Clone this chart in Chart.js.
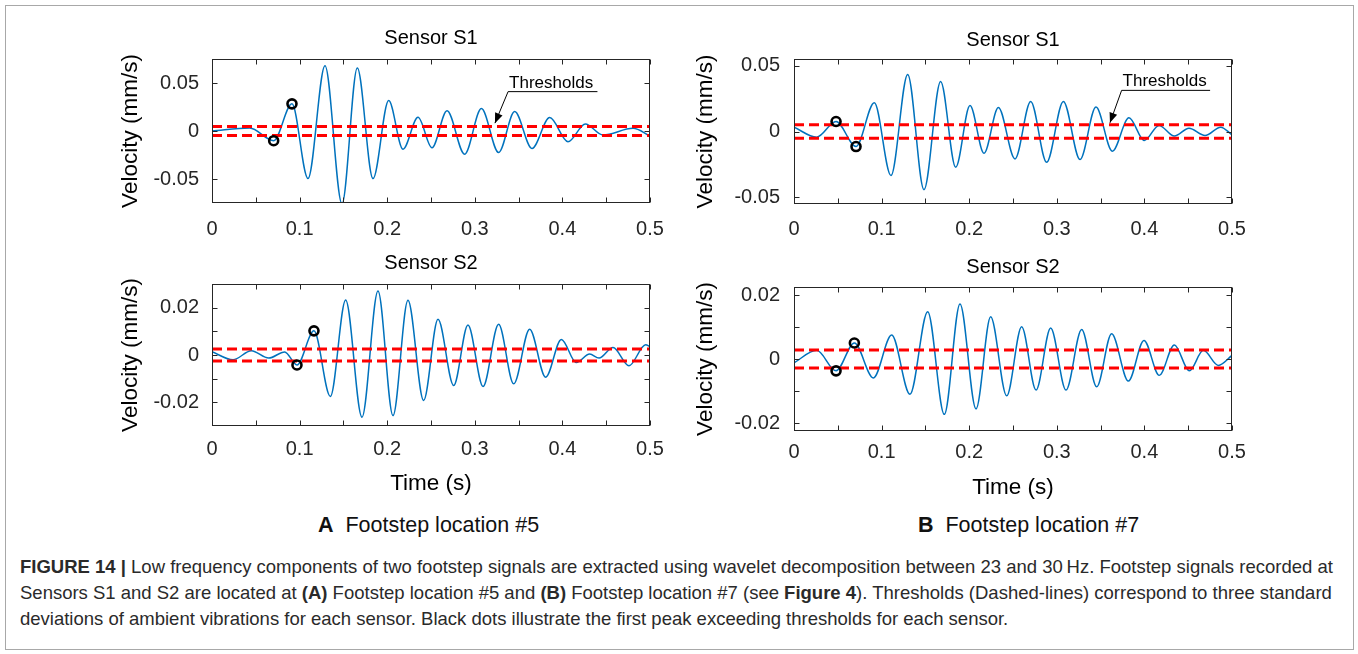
<!DOCTYPE html>
<html>
<head>
<meta charset="utf-8">
<script src="https://cdn.jsdelivr.net/npm/chart.js@4.4.1/dist/chart.umd.min.js"></script>
<style>
  body { margin: 0; background: #fff; width: 1358px; height: 654px; position: relative; overflow: hidden;
         font-family: "Liberation Sans", Arial, sans-serif; }
  .frame { position: absolute; left: 5px; top: 5px; width: 1347px; height: 643px; border: 1px solid #a8a8a8; }
  canvas { position: absolute; }
  .sub { position: absolute; top: 512px; font-size: 21.5px; line-height: 26px; color: #111; white-space: nowrap; }
  .cap { position: absolute; left: 20px; top: 554px; font-size: 18.5px; line-height: 26px; color: #2a2a2a; white-space: nowrap; }
</style>
</head>
<body>
<div class="frame"></div>
<div class="sub" style="left:318px"><b>A</b>&nbsp; Footstep location #5</div>
<div class="sub" style="left:918px"><b>B</b>&nbsp; Footstep location #7</div>
<div class="cap">
<b>FIGURE 14 |</b> Low frequency components of two footstep signals are extracted using wavelet decomposition between 23 and 30&#8201;Hz. Footstep signals recorded at<br>
Sensors S1 and S2 are located at <b>(A)</b> Footstep location #5 and <b>(B)</b> Footstep location #7 (see <b>Figure 4</b>). Thresholds (Dashed-lines) correspond to three standard<br>
deviations of ambient vibrations for each sensor. Black dots illustrate the first peak exceeding thresholds for each sensor.
</div>

<script>
// time axis, shared by every panel
const xTickMarks = [0, 0.05, 0.1, 0.15, 0.2, 0.25, 0.3, 0.35, 0.4, 0.45, 0.5];
const xTickLabels = [0, 0.1, 0.2, 0.3, 0.4, 0.5];

// peaks / troughs of the 23-30 Hz component
// A - footstep location #5, sensor S1
const a1Time = [0, 0.043, 0.0704, 0.0913, 0.1096, 0.129, 0.1484, 0.1659, 0.1838, 0.2017, 0.218, 0.2352, 0.2511,
  0.2683, 0.2884, 0.3075, 0.3272, 0.3455, 0.3653, 0.3855, 0.4064, 0.4262, 0.4463, 0.4806, 0.5];
const a1Vel = [0, 0.003, -0.0101, 0.0283, -0.0496, 0.068, -0.076, 0.0657, -0.0496, 0.0318, -0.0189, 0.0143, -0.0175,
  0.021, -0.0241, 0.0234, -0.0224, 0.0203, -0.0182, 0.014, -0.0112, 0.0073, -0.0042, 0.0028, -0.0052];
const a1DotTime = [0.0704, 0.0913];
const a1DotVel = [-0.0101, 0.0283];
const a1Threshold = 0.0047;
const a1YTicks = [-0.05, 0, 0.05];
const a1YLabels = [-0.05, 0, 0.05];

// A - sensor S2
const a2Time = [0, 0.024, 0.0449, 0.0647, 0.083, 0.097, 0.1164, 0.1351, 0.1526, 0.1712, 0.1895, 0.2066, 0.2237,
  0.2416, 0.258, 0.2759, 0.2922, 0.3094, 0.3272, 0.3444, 0.3626, 0.3809, 0.3988, 0.4159, 0.4311, 0.4418, 0.4578,
  0.476, 0.495, 0.5];
const a2Vel = [0.0014, -0.002, 0.0018, -0.0013, 0.0013, -0.0042, 0.0102, -0.0175, 0.0232, -0.0263, 0.027, -0.0256,
  0.0231, -0.0192, 0.0151, -0.0129, 0.0127, -0.0133, 0.013, -0.0122, 0.0109, -0.0094, 0.0066, -0.0032, 0.0004,
  -0.0013, 0.0032, -0.0045, 0.0043, 0.0035];
const a2DotTime = [0.097, 0.1164];
const a2DotVel = [-0.0042, 0.0102];
const a2Threshold = 0.0025;
const a2YTicks = [-0.02, -0.01, 0, 0.01, 0.02];
const a2YLabels = [-0.02, 0, 0.02];

// B - footstep location #7, sensor S1
const b1Time = [0, 0.0259, 0.048, 0.0708, 0.0917, 0.1107, 0.1298, 0.1484, 0.1674, 0.1846, 0.2009, 0.2169, 0.2333,
  0.2523, 0.2702, 0.2884, 0.3075, 0.3265, 0.3447, 0.3634, 0.3824, 0.3999, 0.4167, 0.4342, 0.4509, 0.4692, 0.4871, 0.5];
const b1Vel = [0.0033, -0.0043, 0.0076, -0.0114, 0.0218, -0.0334, 0.0433, -0.0441, 0.038, -0.0271, 0.0198, -0.0165,
  0.0182, -0.0208, 0.0228, -0.0233, 0.0228, -0.0213, 0.0185, -0.0149, 0.0104, -0.0068, 0.0046, -0.0035, 0.0025,
  -0.003, 0.0033, -0.0025];
const b1DotTime = [0.048, 0.0708];
const b1DotVel = [0.0076, -0.0114];
const b1Threshold = 0.0051;
const b1YTicks = [-0.05, 0, 0.05];
const b1YLabels = [-0.05, 0, 0.05];

// B - sensor S2
const b2Time = [0, 0.0259, 0.048, 0.0689, 0.0906, 0.1115, 0.1324, 0.1526, 0.1716, 0.1895, 0.2078, 0.2245, 0.2428,
  0.2599, 0.2763, 0.293, 0.3105, 0.3284, 0.3455, 0.3626, 0.3817, 0.3995, 0.417, 0.4342, 0.4513, 0.4673, 0.4844, 0.5];
const b2Vel = [-0.0012, 0.0027, -0.0037, 0.005, -0.0059, 0.0075, -0.011, 0.0148, -0.0173, 0.0172, -0.0156, 0.0132,
  -0.0115, 0.0101, -0.0097, 0.0097, -0.0097, 0.0092, -0.0087, 0.0079, -0.0069, 0.0058, -0.0051, 0.0044, -0.0037,
  0.0027, -0.002, 0.0011];
const b2DotTime = [0.048, 0.0689];
const b2DotVel = [-0.0037, 0.005];
const b2Threshold = 0.0028;
const b2YTicks = [-0.02, -0.01, 0, 0.01, 0.02];
const b2YLabels = [-0.02, 0, 0.02];

// "Thresholds" call-outs (data units)
const a1Note = { text: 'Thresholds', x0: 0.338, x1: 0.44, y: 0.041, tipX: 0.323, tipY: 0.0082 };
const b1Note = { text: 'Thresholds', x0: 0.374, x1: 0.475, y: 0.0312, tipX: 0.3607, tipY: 0.0066 };

const FONT = '"Liberation Sans", Arial, Helvetica, sans-serif';
const AXIS = '#262626';
const TITLE_SIZE = 20;   // "Sensor S1"
const LABEL_SIZE = 22.5; // axis titles
const TICK_SIZE = 20;

const toPoints = (xs, ys) => xs.map((x, i) => ({ x: x, y: ys[i] }));
const fmt = v => String(v);

// inward tick marks on all four sides, the axes box and the call-out arrow
const framePlugin = {
  id: 'frame',
  afterDatasetsDraw(chart, args, opts) {
    const { ctx, chartArea: a, scales: { x, y } } = chart;
    const L = Math.round(a.left) + 0.5, R = Math.round(a.right) - 0.5;
    const T = Math.round(a.top) + 0.5, B = Math.round(a.bottom) - 0.5;
    ctx.save();
    ctx.strokeStyle = AXIS;
    ctx.lineWidth = 1;
    ctx.beginPath();
    x.ticks.forEach(t => {
      const px = Math.round(x.getPixelForValue(t.value)) + 0.5;
      ctx.moveTo(px, B); ctx.lineTo(px, B - 5);
      ctx.moveTo(px, T); ctx.lineTo(px, T + 5);
    });
    y.ticks.forEach(t => {
      const py = Math.round(y.getPixelForValue(t.value)) + 0.5;
      ctx.moveTo(L, py); ctx.lineTo(L + 5, py);
      ctx.moveTo(R, py); ctx.lineTo(R - 5, py);
    });
    ctx.stroke();
    ctx.strokeRect(L, T, R - L, B - T);

    const n = opts.note;
    if (n) {
      const x0 = x.getPixelForValue(n.x0), x1 = x.getPixelForValue(n.x1);
      const yl = y.getPixelForValue(n.y);
      const tx = x.getPixelForValue(n.tipX), ty = y.getPixelForValue(n.tipY);
      ctx.strokeStyle = '#000';
      ctx.fillStyle = '#000';
      ctx.lineWidth = 1;
      ctx.beginPath();
      ctx.moveTo(x1, yl); ctx.lineTo(x0, yl); ctx.lineTo(tx, ty);
      ctx.stroke();
      const ang = Math.atan2(ty - yl, tx - x0);
      ctx.beginPath();
      ctx.moveTo(tx, ty);
      ctx.lineTo(tx - 10 * Math.cos(ang) + 4 * Math.sin(ang), ty - 10 * Math.sin(ang) - 4 * Math.cos(ang));
      ctx.lineTo(tx - 10 * Math.cos(ang) - 4 * Math.sin(ang), ty - 10 * Math.sin(ang) + 4 * Math.cos(ang));
      ctx.closePath();
      ctx.fill();
      ctx.font = '17px ' + FONT;
      ctx.textAlign = 'left';
      ctx.textBaseline = 'alphabetic';
      ctx.fillText(n.text, x0 + 1, yl - 4);
    }
    ctx.restore();
  }
};

function makePanel(p) {
  const [L, T, R, B] = p.area;
  const yw = L - p.canvasLeft;
  const xh = p.xTitleY ? 80 : 45;
  const canvas = document.createElement('canvas');
  canvas.width = 2 * yw + (R - L);
  canvas.height = B - p.canvasTop + xh;
  canvas.style.left = p.canvasLeft + 'px';
  canvas.style.top = p.canvasTop + 'px';
  document.body.appendChild(canvas);

  const tLine = TITLE_SIZE * 1.2, lLine = LABEL_SIZE * 1.2, kLine = TICK_SIZE * 1.2;
  const titlePadTop = p.titleY - p.canvasTop - tLine / 2;
  const titlePadBottom = (T - p.canvasTop) - titlePadTop - tLine;

  new Chart(canvas, {
    type: 'line',
    data: {
      datasets: [
        { data: toPoints(p.dotTime, p.dotVel), showLine: false, pointRadius: 4.5, pointBorderWidth: 2.6,
          pointBorderColor: '#000', pointBackgroundColor: 'rgba(255,255,255,0)' },
        { data: [{ x: 0, y: p.thr }, { x: 0.5, y: p.thr }], borderColor: '#ff0000', borderWidth: 3,
          borderDash: [10, 5], pointRadius: 0 },
        { data: [{ x: 0, y: -p.thr }, { x: 0.5, y: -p.thr }], borderColor: '#ff0000', borderWidth: 3,
          borderDash: [10, 5], pointRadius: 0 },
        { data: toPoints(p.time, p.vel), borderColor: '#0072BD', borderWidth: 1.5, pointRadius: 0,
          cubicInterpolationMode: 'monotone', fill: false }
      ]
    },
    options: {
      responsive: false,
      animation: false,
      events: [],
      layout: { padding: 0 },
      plugins: {
        legend: { display: false },
        tooltip: { enabled: false },
        title: { display: true, text: p.title, color: '#000', font: { family: FONT, size: TITLE_SIZE, weight: 'normal' },
                 padding: { top: titlePadTop, bottom: titlePadBottom } },
        frame: { note: p.note || null }
      },
      scales: {
        x: {
          type: 'linear', min: 0, max: 0.5,
          afterBuildTicks: s => { s.ticks = xTickMarks.map(v => ({ value: v })); },
          afterFit: s => { s.height = xh; },
          grid: { display: false, drawTicks: false },
          border: { display: false },
          ticks: { autoSkip: false, maxRotation: 0, padding: p.xLabelY - B - kLine / 2, color: AXIS,
                   font: { family: FONT, size: TICK_SIZE },
                   callback: v => xTickLabels.includes(v) ? fmt(v) : '' },
          title: { display: !!p.xTitleY, text: 'Time (s)', color: '#000', font: { family: FONT, size: LABEL_SIZE },
                   padding: { top: 0, bottom: p.xTitleY ? (B + xh) - p.xTitleY - lLine / 2 : 0 } }
        },
        y: {
          min: -p.yMax, max: p.yMax,
          afterBuildTicks: s => { s.ticks = p.yTicks.map(v => ({ value: v })); },
          afterFit: s => { s.width = yw; },
          grid: { display: false, drawTicks: false },
          border: { display: false },
          ticks: { padding: p.yTickPad, color: AXIS, font: { family: FONT, size: TICK_SIZE },
                   callback: v => p.yLabels.includes(v) ? fmt(v) : '' },
          title: { display: true, text: 'Velocity (mm/s)', color: '#000', font: { family: FONT, size: LABEL_SIZE },
                   padding: { top: p.yTitleX - p.canvasLeft - lLine / 2, bottom: 0 } }
        },
        // empty right-hand block, so the title is centred over the axes
        spacer: {
          position: 'right', display: true,
          afterFit: s => { s.width = yw; },
          grid: { display: false, drawTicks: false },
          border: { display: false },
          ticks: { display: false }
        }
      }
    },
    plugins: [framePlugin]
  });
}

makePanel({ title: 'Sensor S1', area: [212, 59, 650, 203], canvasLeft: 90, canvasTop: 8, titleY: 38,
  xLabelY: 229, yTitleX: 131, yTickPad: 13, yMax: 0.075, yTicks: a1YTicks, yLabels: a1YLabels,
  time: a1Time, vel: a1Vel, dotTime: a1DotTime, dotVel: a1DotVel, thr: a1Threshold, note: a1Note });
makePanel({ title: 'Sensor S2', area: [212, 284, 650, 426], canvasLeft: 90, canvasTop: 236, titleY: 263,
  xLabelY: 449, xTitleY: 484, yTitleX: 131, yTickPad: 13, yMax: 0.03, yTicks: a2YTicks, yLabels: a2YLabels,
  time: a2Time, vel: a2Vel, dotTime: a2DotTime, dotVel: a2DotVel, thr: a2Threshold });
makePanel({ title: 'Sensor S1', area: [794, 59, 1232, 204], canvasLeft: 672, canvasTop: 8, titleY: 40,
  xLabelY: 229, yTitleX: 706, yTickPad: 14, yMax: 0.055, yTicks: b1YTicks, yLabels: b1YLabels,
  time: b1Time, vel: b1Vel, dotTime: b1DotTime, dotVel: b1DotVel, thr: b1Threshold, note: b1Note });
makePanel({ title: 'Sensor S2', area: [794, 287, 1232, 431], canvasLeft: 672, canvasTop: 236, titleY: 267,
  xLabelY: 452, xTitleY: 488, yTitleX: 706, yTickPad: 14, yMax: 0.0225, yTicks: b2YTicks, yLabels: b2YLabels,
  time: b2Time, vel: b2Vel, dotTime: b2DotTime, dotVel: b2DotVel, thr: b2Threshold });
</script>
</body>
</html>
